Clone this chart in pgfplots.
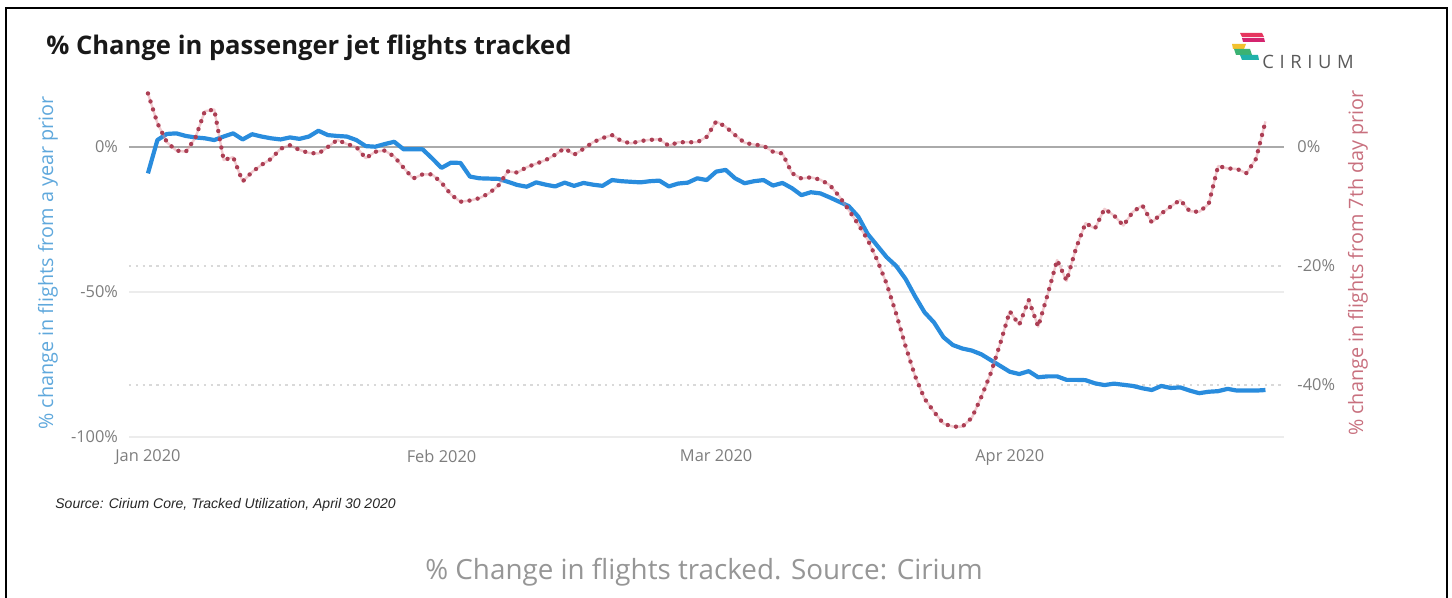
\documentclass[border=0pt]{standalone}
\usepackage{pgfplots}
\pgfplotsset{compat=1.18}
\usepackage{pgfplotstable}
\usepackage{fontspec}
\setmainfont{Open Sans}
\newfontfamily\srcfont{Liberation Sans}

\definecolor{flightblue}{RGB}{41,140,221}
\definecolor{bluelabel}{RGB}{95,168,220}
\definecolor{dotred}{RGB}{172,62,84}
\definecolor{dotpink}{RGB}{225,140,150}
\definecolor{redlabel}{RGB}{200,112,126}
\definecolor{tickgrey}{RGB}{125,125,125}
\definecolor{zerogrey}{RGB}{170,170,170}
\definecolor{gridgrey}{RGB}{236,236,236}
\definecolor{captiongrey}{RGB}{150,150,150}
\definecolor{logored}{RGB}{230,53,95}
\definecolor{logomagenta}{RGB}{212,36,110}
\definecolor{logoyellow}{RGB}{242,193,46}
\definecolor{logogreen}{RGB}{59,178,115}
\definecolor{logoteal}{RGB}{32,178,170}

% daily % change vs. the same day a year earlier (day 0 = 1 Jan 2020)
\pgfplotstableread{
day val
0 -9.1
1 2.4
2 4.5
3 4.7
4 3.8
5 3.3
6 3.0
7 2.4
8 3.6
9 4.7
10 2.6
11 4.4
12 3.6
13 3.0
14 2.6
15 3.3
16 2.8
17 3.6
18 5.6
19 4.1
20 3.8
21 3.6
22 2.4
23 0.3
24 0.1
25 1.0
26 1.8
27 -0.8
28 -0.8
29 -0.8
30 -3.9
31 -7.2
32 -5.4
33 -5.5
34 -10.2
35 -10.8
36 -10.9
37 -11.0
38 -12.0
39 -13.1
40 -13.7
41 -12.2
42 -13.0
43 -13.6
44 -12.3
45 -13.4
46 -12.4
47 -13.0
48 -13.4
49 -11.4
50 -11.8
51 -12.0
52 -12.2
53 -11.8
54 -11.6
55 -13.6
56 -12.6
57 -12.3
58 -10.8
59 -11.4
60 -8.5
61 -7.9
62 -10.8
63 -12.5
64 -11.8
65 -11.4
66 -13.3
67 -12.4
68 -14.2
69 -16.6
70 -15.6
71 -16.0
72 -17.4
73 -18.9
74 -20.4
75 -24.0
76 -30.0
77 -34.0
78 -38.0
79 -41.0
80 -45.5
81 -51.5
82 -57.0
83 -60.5
84 -65.6
85 -68.3
86 -69.5
87 -70.2
88 -71.5
89 -73.5
90 -75.5
91 -77.5
92 -78.3
93 -77.3
94 -79.4
95 -79.1
96 -79.1
97 -80.3
98 -80.3
99 -80.4
100 -81.5
101 -82.1
102 -81.6
103 -82.0
104 -82.4
105 -83.2
106 -83.8
107 -82.4
108 -83.1
109 -82.9
110 -84.0
111 -84.9
112 -84.4
113 -84.2
114 -83.4
115 -84.0
116 -84.0
117 -84.0
118 -83.8
}\yearprior

% daily % change vs. the 7th day before
\pgfplotstableread{
day val
0 9.0
1 4.0
2 0.8
3 -0.6
4 -0.8
5 1.5
6 6.0
7 6.3
8 -2.2
9 -1.7
10 -5.8
11 -4.2
12 -3.0
13 -2.0
14 -0.3
15 0.3
16 -0.5
17 -1.0
18 -1.1
19 0.0
20 1.2
21 0.5
22 0.0
23 -1.9
24 -0.8
25 -0.6
26 -1.6
27 -3.5
28 -5.3
29 -4.6
30 -4.6
31 -6.0
32 -8.0
33 -9.2
34 -9.0
35 -8.6
36 -7.8
37 -6.5
38 -4.1
39 -4.3
40 -3.4
41 -2.8
42 -2.2
43 -1.3
44 -0.2
45 -1.3
46 -0.3
47 0.8
48 1.5
49 2.0
50 1.0
51 0.6
52 1.0
53 1.2
54 1.3
55 0.2
56 0.8
57 0.8
58 0.8
59 1.7
60 4.3
61 3.4
62 2.0
63 0.7
64 0.4
65 0.2
66 -0.8
67 -1.1
68 -4.4
69 -5.3
70 -5.1
71 -5.5
72 -6.4
73 -8.3
74 -10.6
75 -13.0
76 -15.6
77 -19.0
78 -23.0
79 -28.0
80 -33.5
81 -38.5
82 -42.3
83 -44.5
84 -46.5
85 -47.0
86 -47.0
87 -45.5
88 -42.0
89 -38.0
90 -33.0
91 -27.6
92 -29.9
93 -25.7
94 -30.2
95 -24.8
96 -19.0
97 -22.5
98 -17.0
99 -12.8
100 -13.7
101 -10.4
102 -11.5
103 -13.2
104 -10.9
105 -9.8
106 -12.7
107 -11.2
108 -10.0
109 -8.9
110 -10.8
111 -10.9
112 -9.6
113 -3.2
114 -3.6
115 -3.7
116 -4.4
117 -2.0
118 4.3
}\weekprior

\pgfplotsset{
  flightaxis/.style={
    at={(64.5pt,80.5pt)}, anchor=south west,
    scale only axis, width=577.7pt, height=174pt,
    xmin=-2, xmax=120,
    axis line style={draw=none},
    major tick length=0pt, minor tick length=0pt,
    tick label style={font=\fontsize{8.2}{9}\selectfont, text=tickgrey},
  }
}

\begin{document}
\begin{tikzpicture}
\path[use as bounding box] (0,0) rectangle (726pt,299pt);

% frame
\draw[line width=1.3pt, black] (3pt,0) -- (3pt,295pt) -- (723.5pt,295pt) -- (723.5pt,0);

% left axis: change from a year prior
\begin{axis}[flightaxis,
  ymin=-100, ymax=20,
  xtick={0,31,60,91},
  xticklabels={Jan 2020,Feb 2020,Mar 2020,Apr 2020},
  xticklabel style={yshift=-3pt},
  ytick={-100,-50}, yticklabels={-100\%,-50\%},
  extra y ticks={0}, extra y tick labels={0\%},
  extra y tick style={major grid style={draw=zerogrey, line width=0.7pt}},
  ymajorgrids,
  major grid style={draw=gridgrey, line width=0.6pt},
  minor ytick={-41.03,-82.07},
  yminorgrids,
  minor grid style={draw=gridgrey!92!black, line width=0.8pt, dash pattern=on 1.2pt off 2.2pt},
  yticklabel style={xshift=-2pt},
  ylabel={\% change in flights from a year prior},
  every axis y label/.style={at={(axis description cs:-0.0701,0.5)}, rotate=90, anchor=center,
    font=\fontsize{9.9}{11}\selectfont, text=bluelabel},
]
\addplot[draw=flightblue, line width=2.1pt, line join=round] table[x=day, y=val] {\yearprior};
\end{axis}

% right axis: change from the 7th day prior
\begin{axis}[flightaxis,
  ymin=-48.74, ymax=9.748,
  axis x line=none,
  axis y line*=right,
  ytick={-40,-20,0}, yticklabels={-40\%,-20\%,0\%},
  yticklabel style={anchor=west, xshift=3pt},
  ylabel={\% change in flights from 7th day prior},
  every axis y label/.style={at={(axis description cs:1.0637,0.5)}, rotate=90, anchor=center,
    font=\fontsize{9.9}{11}\selectfont, text=redlabel},
]
\addplot[draw=dotpink, opacity=0.45, line width=1.2pt, line join=round] table[x=day, y=val] {\weekprior};
\addplot[draw=dotred, line width=2.2pt, line cap=round, dash pattern=on 0pt off 4.2pt] table[x=day, y=val] {\weekprior};
\end{axis}

% title
\node[anchor=base west, inner sep=0pt, font=\fontsize{12.8}{14}\selectfont\bfseries, text=black!90]
  at (23pt,271.5pt) {\% Change in passenger jet flights tracked};

% logo
\fill[logored]     (620pt,282.5pt) -- (631pt,282.5pt) -- (632pt,280.5pt) -- (621pt,280.5pt) -- cycle;
\fill[logomagenta] (621pt,280pt) -- (632pt,280pt) -- (632.5pt,278pt) -- (621.5pt,278pt) -- cycle;
\fill[logoyellow]  (616pt,277pt) -- (623pt,277pt) -- (622pt,274.5pt) -- (616.5pt,274.5pt) -- cycle;
\fill[logogreen]   (617pt,274.5pt) -- (625pt,274.5pt) -- (626pt,271.5pt) -- (618pt,271.5pt) -- cycle;
\fill[logoteal]    (620pt,271.5pt) -- (629pt,271.5pt) -- (629.5pt,269pt) -- (621pt,269pt) -- cycle;
\node[anchor=west, inner sep=0pt, font=\fontsize{9.2}{10}\selectfont, text=black!65]
  at (631pt,268pt) {C\hspace{2.8pt}I\hspace{2.8pt}R\hspace{2.8pt}I\hspace{2.8pt}U\hspace{2.8pt}M};

% source note
\node[anchor=west, inner sep=0pt, font=\srcfont\itshape\fontsize{7}{8}\selectfont, text=black!85]
  at (27.5pt,46.5pt) {Source: Cirium Core, Tracked Utilization, April 30 2020};

% caption
\node[anchor=center, inner sep=0pt, font=\fontsize{13.9}{16}\selectfont, text=captiongrey]
  at (352pt,13pt) {\% Change in flights tracked. Source: Cirium};
\end{tikzpicture}
\end{document}
